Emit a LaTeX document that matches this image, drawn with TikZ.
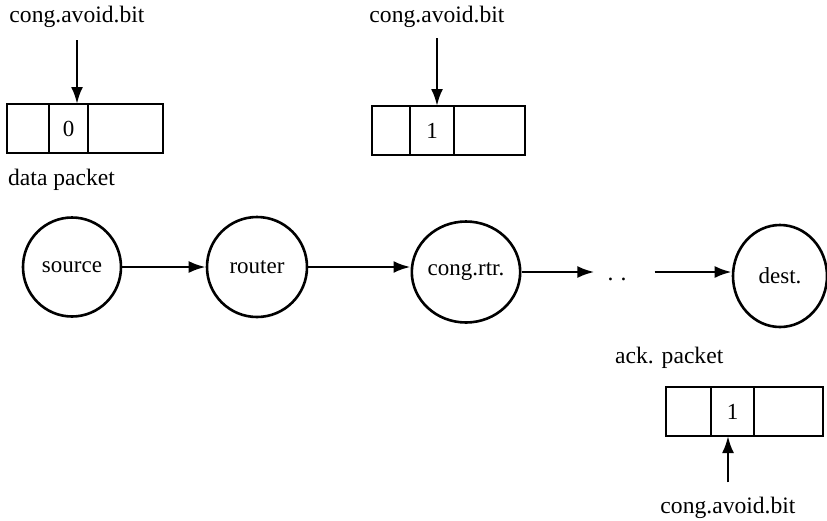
\documentclass[tikz,border=0pt]{standalone}
\usepackage{fontspec}
\setmainfont{Liberation Serif}
\usetikzlibrary{arrows.meta,shapes.geometric}
\begin{document}
\begin{tikzpicture}[x=1pt,y=-1pt,
  txt/.style={font=\fontsize{23.6}{28}\selectfont, inner sep=0pt},
  nd/.style={draw, ellipse, line width=2.6pt, inner sep=0pt, font=\fontsize{23}{28}\selectfont},
  cell/.style={draw, line width=2.4pt, minimum height=49pt, inner sep=0pt, outer sep=0pt, anchor=north west, font=\fontsize{23}{28}\selectfont},
  arr/.style={line width=2.6pt, -{Latex[length=17pt,width=12pt]}}]
\useasboundingbox (0,0) rectangle (827,520);

% packet 1
\node[cell, minimum width=42pt] (b1a) at (7,104) {};
\node[cell, minimum width=39pt] (b1b) at (b1a.north east) {0};
\node[cell, minimum width=75pt] (b1c) at (b1b.north east) {};
\node[txt, anchor=base] (t1) at (77,22) {cong.avoid.bit};
\draw[arr, shorten <=13pt] (t1.south) -- (t1.south |- b1b.north);
\node[txt, anchor=base west] (dp) at (8,185) {data packet};

% packet 2
\node[cell, minimum width=38pt] (b2a) at (372,106) {};
\node[cell, minimum width=44pt] (b2b) at (b2a.north east) {1};
\node[cell, minimum width=71pt] (b2c) at (b2b.north east) {};
\node[txt, anchor=base] (t2) at (437,22) {cong.avoid.bit};
\draw[arr, shorten <=11pt] (t2.south) -- (t2.south |- b2b.north);

% nodes
\node[nd, minimum width=98pt, minimum height=99pt] (src) at (72,267) {source};
\node[nd, minimum width=100pt, minimum height=100pt] (rtr) at (257,267) {router};
\node[nd, minimum width=102pt, minimum height=101pt] (cng) at (466,272) {cong.rtr.};
\node[nd, minimum width=94pt, minimum height=102pt] (dst) at (780,276) {dest.};
\node[txt, anchor=base] (dots) at (617,280) {.\hspace{0.3em}.};

\draw[arr] (src) -- (rtr);
\draw[arr] (rtr.east) -- (rtr.east -| cng.west);
\draw[arr, shorten >=13pt] (cng.east) -- (cng.east -| dots.west);
\draw[arr, shorten <=28pt] (dots.east |- cng.east) -- (cng.east -| dst.west);

% packet 3
\node[txt, anchor=base west] (ap) at (615,363) {ack. packet};
\node[cell, minimum width=45pt] (b3a) at (666,387) {};
\node[cell, minimum width=43pt] (b3b) at (b3a.north east) {1};
\node[cell, minimum width=69pt] (b3c) at (b3b.north east) {};
\node[txt, anchor=base] (t3) at (728,513) {cong.avoid.bit};
\draw[arr, shorten <=14pt] (t3.north) -- (t3.north |- b3b.south);
\end{tikzpicture}
\end{document}
